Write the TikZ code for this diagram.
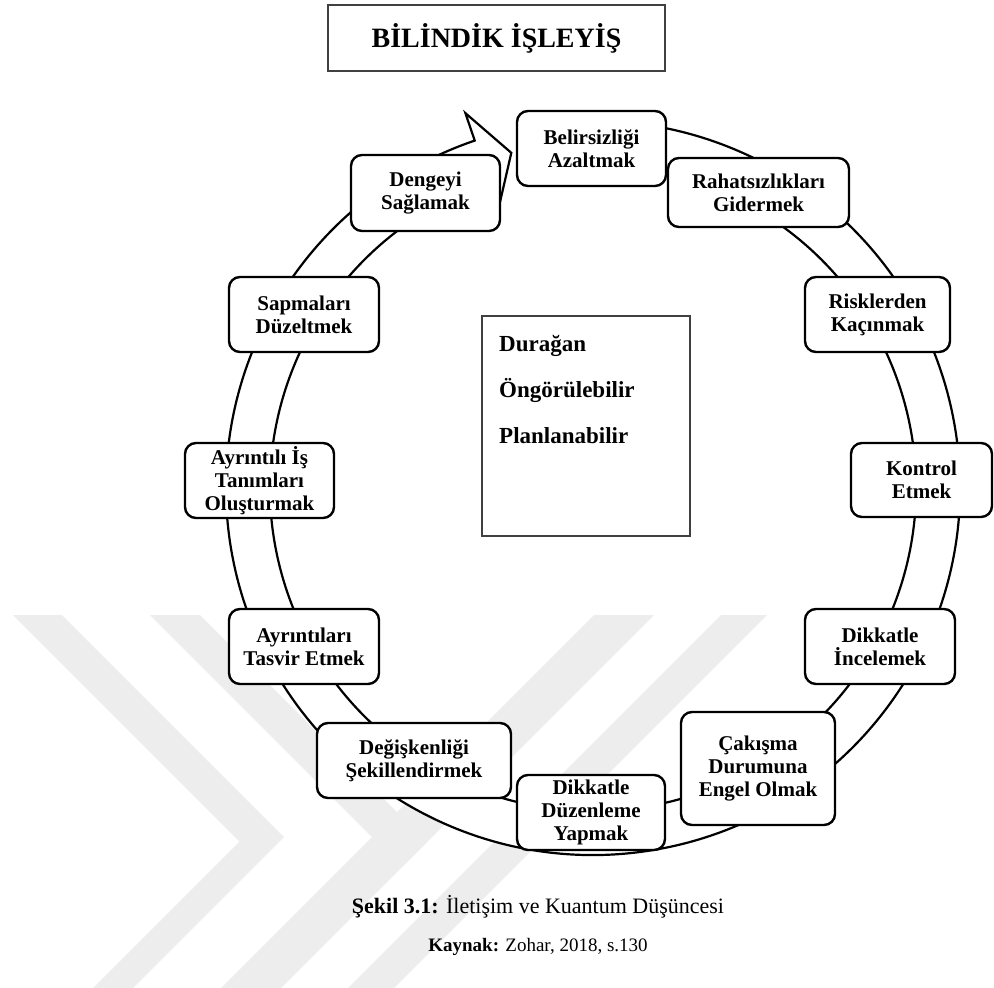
\documentclass[tikz,border=0pt]{standalone}
\usepackage{fontspec}
\setmainfont{Liberation Serif}
\begin{document}
\begin{tikzpicture}[x=1pt,y=1pt,
  cyclebox/.style={draw=black, line width=2.4pt, rounded corners=11pt, fill=white,
    align=center, inner sep=0pt, font=\fontsize{21}{23}\selectfont\bfseries},
  ringline/.style={draw=black, line width=2.2pt, fill=white, line join=miter},
  framebox/.style={draw=black!75, line width=1.3pt, fill=white, inner sep=0pt},
  coretext/.style={anchor=base west, inner sep=0pt, font=\fontsize{23}{27}\selectfont\bfseries},
  stripe/.style={fill=black!7, draw=none},
]
\useasboundingbox (0,0) rectangle (994,-988);

% faint background emblem made of diagonal stripes
\begin{scope}
  \clip (0,-615) rectangle (994,-988);
  \fill[stripe] (13,-615) -- (62,-615) -- (284,-837) -- (133,-988) -- (93,-988) -- (239.5,-841.5) -- cycle;
  \fill[stripe] (150,-615) -- (200,-615) -- (427,-842) -- (402,-867) -- cycle;
  \fill[stripe] (594,-615) -- (654,-615) -- (281,-988) -- (221,-988) -- cycle;
  \fill[stripe] (721,-615) -- (767,-615) -- (394,-988) -- (348,-988) -- cycle;
\end{scope}

% title
\node[framebox, minimum width=337pt, minimum height=66pt,
  font=\fontsize{28}{31}\selectfont\bfseries] (title) at (496.5,-38) {BİLİNDİK İŞLEYİŞ};

% circular arrow ring
\coordinate (C) at (593,-488);
\draw[ringline] ([shift={(100:367)}]C)
  arc[start angle=100, end angle=-251.2, radius=367]
  -- ([shift={(108.8:396)}]C) coordinate (barbA)
  -- ([shift={(103.7:345)}]C) coordinate (tip)
  -- ([shift={(108.8:294)}]C) coordinate (barbB)
  -- ([shift={(108.8:323)}]C)
  arc[start angle=-251.2, end angle=100, radius=323] -- cycle;

% central box
\node[framebox, minimum width=208pt, minimum height=220pt] (core) at (586,-426) {};
\node[coretext] (t1) at (499,-351) {Durağan};
\node[coretext] (t2) at (499,-397) {Öngörülebilir};
\node[coretext] (t3) at (499,-443) {Planlanabilir};

% steps around the ring
\node[cyclebox, minimum width=149pt, minimum height=75pt] (s1) at (591.5,-148.5) {Belirsizliği\\Azaltmak};
\node[cyclebox, minimum width=181pt, minimum height=69pt] (s2) at (758.5,-192.5) {Rahatsızlıkları\\Gidermek};
\node[cyclebox, minimum width=145pt, minimum height=75pt] (s3) at (877.5,-314.5) {Risklerden\\Kaçınmak};
\node[cyclebox, minimum width=141pt, minimum height=74pt] (s4) at (921.5,-480) {Kontrol\\Etmek};
\node[cyclebox, minimum width=150pt, minimum height=75pt] (s5) at (880,-646.5) {Dikkatle\\İncelemek};
\node[cyclebox, minimum width=154pt, minimum height=113pt] (s6) at (758,-768.5) {Çakışma\\Durumuna\\Engel Olmak};
\node[cyclebox, minimum width=148pt, minimum height=75pt] (s7) at (591,-812.5) {Dikkatle\\Düzenleme\\Yapmak};
\node[cyclebox, minimum width=194pt, minimum height=75pt] (s8) at (414,-760.5) {Değişkenliği\\Şekillendirmek};
\node[cyclebox, minimum width=150pt, minimum height=75pt] (s9) at (304,-646.5) {Ayrıntıları\\Tasvir Etmek};
\node[cyclebox, minimum width=149pt, minimum height=75pt] (s10) at (259.5,-480.5) {Ayrıntılı İş\\Tanımları\\Oluşturmak};
\node[cyclebox, minimum width=150pt, minimum height=75pt] (s11) at (304,-314.5) {Sapmaları\\Düzeltmek};
\node[cyclebox, minimum width=149pt, minimum height=76pt] (s12) at (425.5,-193) {Dengeyi\\Sağlamak};

% caption
\node[anchor=base, inner sep=0pt, font=\fontsize{22}{26}\selectfont] (cap) at (538,-913)
  {\textbf{Şekil 3.1:} İletişim ve Kuantum Düşüncesi};
\node[anchor=base, inner sep=0pt, font=\fontsize{19}{22}\selectfont] (src) at (538,-951)
  {\textbf{Kaynak:} Zohar, 2018, s.130};
\end{tikzpicture}
\end{document}
